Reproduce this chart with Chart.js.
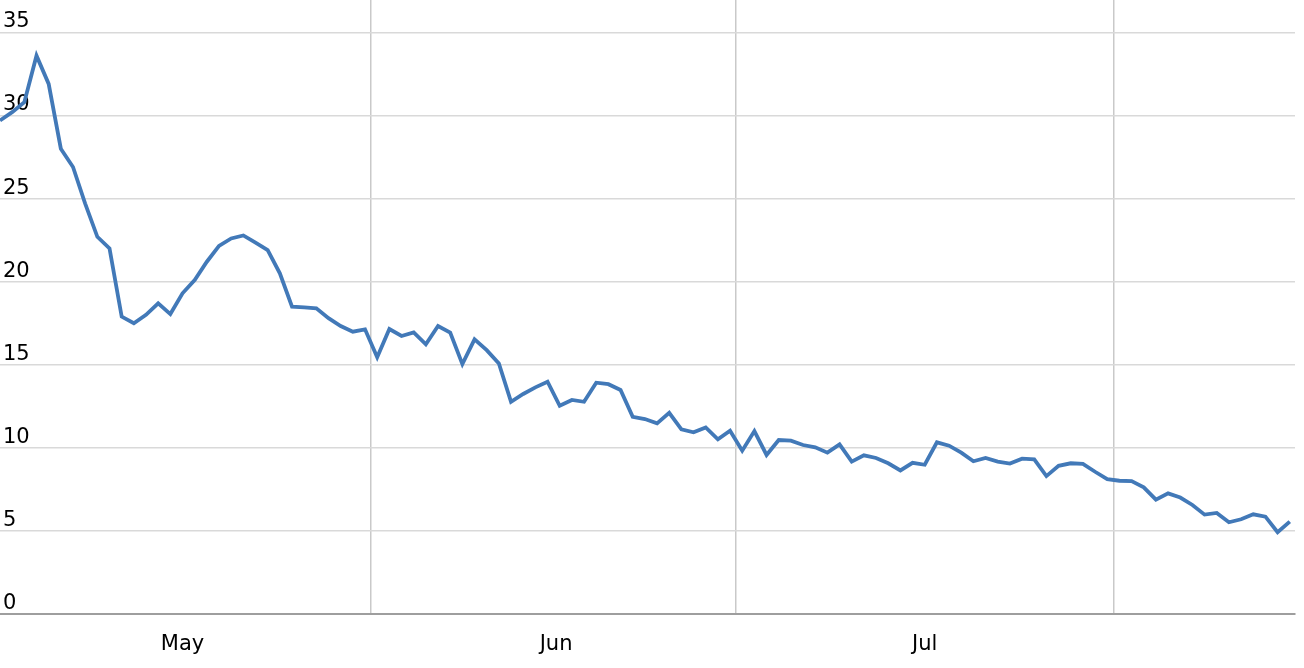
<!DOCTYPE html>
<html>
<head>
<meta charset="utf-8">
<style>
  html, body { margin: 0; padding: 0; background: #ffffff; }
  canvas { display: block; }
</style>
<script src="https://cdn.jsdelivr.net/npm/chart.js@4/dist/chart.umd.min.js"></script>
</head>
<body>
<canvas id="c" width="1304" height="668"></canvas>
<script>
// Daily values, first point = 1 May (index 0), one point per day
const values = [
  29.7, 30.2, 30.8, 33.6, 31.9, 28.0, 26.9, 24.7, 22.7, 22.0,
  17.9, 17.5, 18.0, 18.7, 18.05, 19.3, 20.1, 21.2, 22.15, 22.6,
  22.78, 22.35, 21.9, 20.5, 18.5, 18.45, 18.4, 17.8, 17.33, 16.99,
  17.13, 15.45, 17.15, 16.73, 16.95, 16.23, 17.33, 16.93, 15.04, 16.53,
  15.88, 15.08, 12.77, 13.24, 13.64, 13.98, 12.53, 12.88, 12.77, 13.92,
  13.83, 13.48, 11.87, 11.73, 11.47, 12.11, 11.11, 10.93, 11.23, 10.51,
  11.03, 9.83, 11.01, 9.57, 10.47, 10.43, 10.17, 10.03, 9.71, 10.21,
  9.17, 9.55, 9.39, 9.07, 8.64, 9.10, 8.98, 10.33, 10.13, 9.71,
  9.19, 9.39, 9.17, 9.05, 9.35, 9.31, 8.30, 8.92, 9.07, 9.03,
  8.56, 8.12, 8.02, 8.00, 7.62, 6.88, 7.26, 7.01, 6.56, 5.98,
  6.08, 5.52, 5.70, 6.00, 5.86, 4.92, 5.56
];
// Month boundaries (day index; data points sit at mid-day) and month label centres
const monthStarts = [30.5, 60.5, 91.5];
const monthCenters = [15, 45.7, 76];
const monthLabels = ['May', 'Jun', 'Jul'];
const yTicks = [0, 5, 10, 15, 20, 25, 30, 35];
const yMax = 36.95;
const xMax = 106.43;

const points = values.map((v, i) => ({ x: i, y: v }));

const FONT = { family: "'DejaVu Sans', Verdana, sans-serif", size: 21 };

new Chart(document.getElementById('c'), {
  type: 'line',
  data: {
    datasets: [{
      data: points,
      borderColor: '#4279b8',
      borderWidth: 3.8,
      pointRadius: 0,
      pointHoverRadius: 0,
      tension: 0,
      fill: false
    }]
  },
  options: {
    responsive: false,
    devicePixelRatio: 1,
    animation: false,
    events: [],
    layout: { padding: { left: 0, top: 0, bottom: 0, right: 9 } },
    plugins: { legend: { display: false }, tooltip: { enabled: false } },
    scales: {
      x: {
        type: 'linear',
        min: 0,
        max: xMax,
        afterBuildTicks: (scale) => {
          scale.ticks = monthStarts.concat(monthCenters).map(v => ({ value: v }));
        },
        afterFit: (scale) => {
          scale.height = 54;
          scale.paddingLeft = 0; scale.paddingRight = 0;
        },
        grid: {
          drawTicks: false,
          lineWidth: 1.5,
          color: (ctx) => (ctx.tick && monthStarts.includes(ctx.tick.value)) ? '#c9c9c9' : 'rgba(0,0,0,0)'
        },
        border: { display: true, color: '#9e9e9e', width: 2 },
        ticks: {
          autoSkip: false,
          maxRotation: 0,
          padding: 18,
          color: '#000',
          font: FONT,
          callback: (value) => {
            const k = monthCenters.indexOf(value);
            return k >= 0 ? monthLabels[k] : '';
          }
        }
      },
      y: {
        type: 'linear',
        position: 'left',
        min: 0,
        max: yMax,
        afterBuildTicks: (scale) => {
          scale.ticks = yTicks.map(v => ({ value: v }));
        },
        afterFit: (scale) => {
          scale.width = 0;
          scale.paddingTop = 0; scale.paddingBottom = 0;
        },
        grid: {
          drawTicks: false,
          lineWidth: 1.5,
          color: '#d9d9d9'
        },
        border: { display: false },
        ticks: {
          mirror: true,
          padding: 3,
          labelOffset: -10.5,
          color: '#000',
          font: FONT,
          callback: (value) => String(value)
        }
      }
    }
  }
});
</script>
</body>
</html>
